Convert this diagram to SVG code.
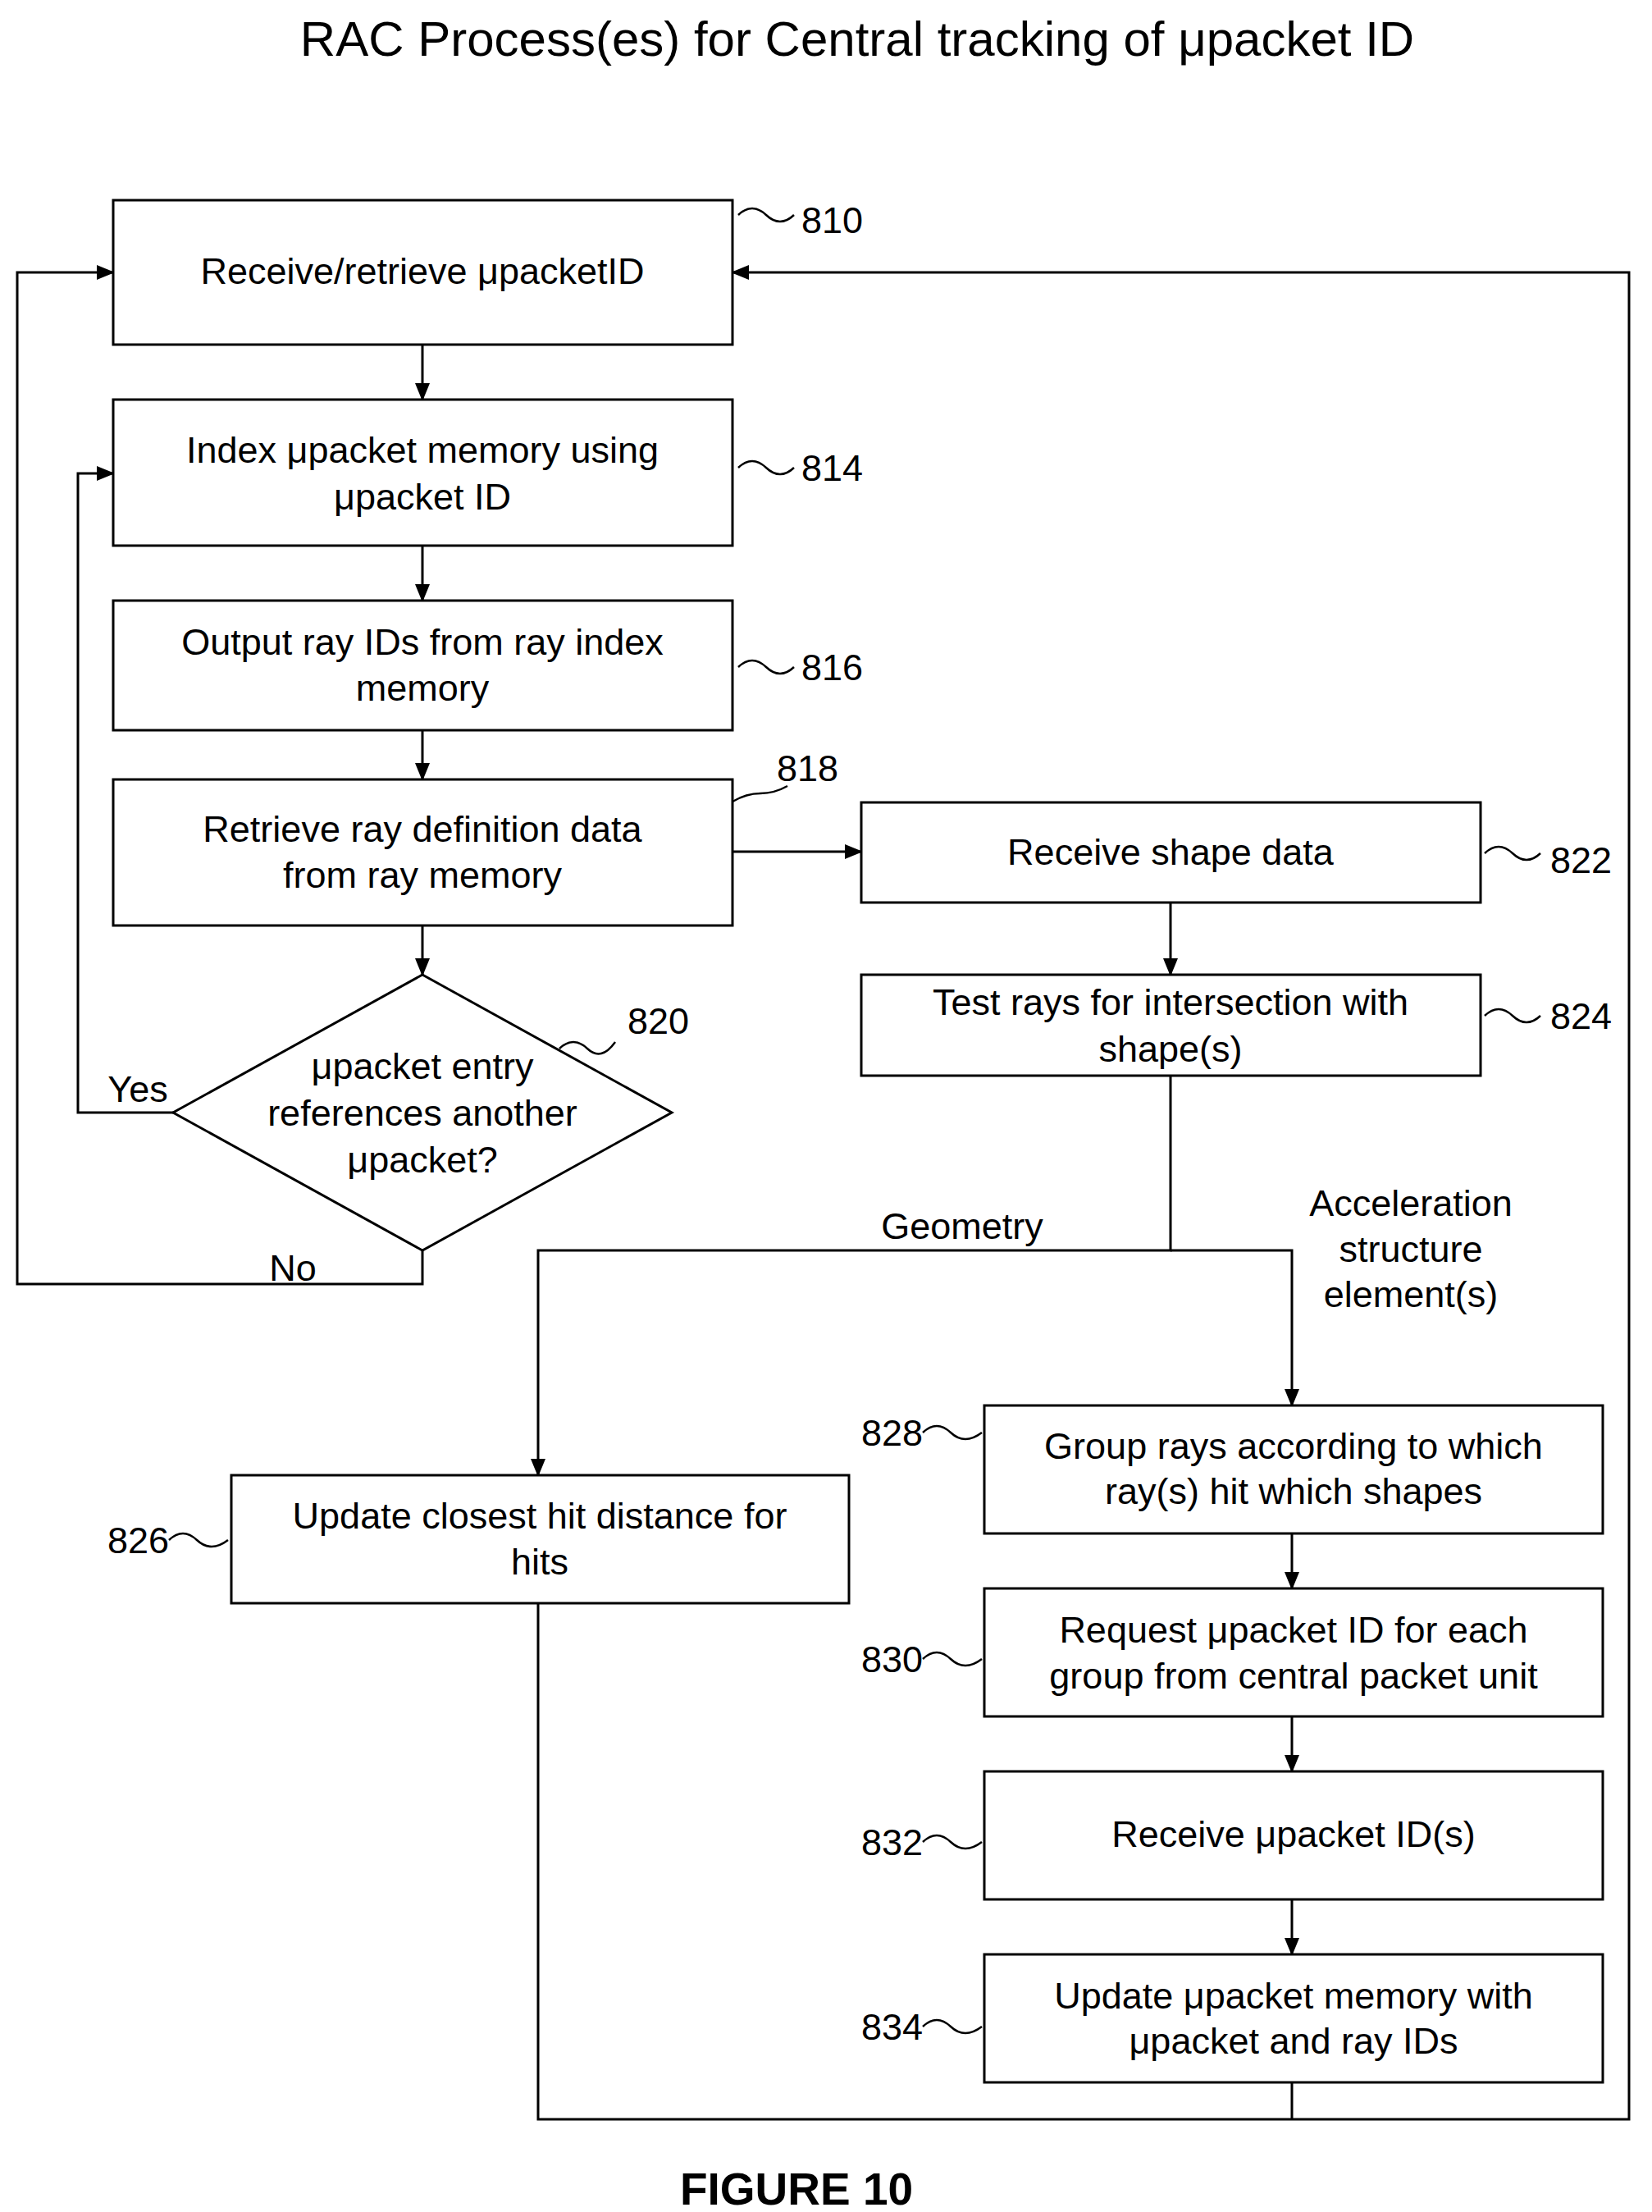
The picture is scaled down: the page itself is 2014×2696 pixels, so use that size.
<svg xmlns="http://www.w3.org/2000/svg" width="2014" height="2696" viewBox="0 0 2014 2696">
<style>
.b{fill:#fff;stroke:#000;stroke-width:3}
text{font-family:"Liberation Sans",Arial,sans-serif;font-size:45px;fill:#000}
.c{text-anchor:middle;dominant-baseline:central}
.n{dominant-baseline:central}
.e{text-anchor:end;dominant-baseline:central}
.l{fill:none;stroke:#000;stroke-width:3}
.s{fill:none;stroke:#000;stroke-width:2.5}
</style>
<defs>
<marker id="ab" markerWidth="22" markerHeight="22" refX="20" refY="11" orient="auto" markerUnits="userSpaceOnUse" viewBox="0 0 22 22"><path d="M0,2 L22,11 L0,20 z" fill="#000"/></marker></defs>
<text x="1045" y="47" class="c" style="font-size:60px">RAC Process(es) for Central tracking of μpacket ID</text>
<g id="connectors" marker-end="url(#ab)">
<path class="l" d="M515,420V487"/>
<path class="l" d="M515,665V732"/>
<path class="l" d="M515,890V950"/>
<path class="l" d="M515,1128V1188"/>
<path class="l" d="M893,1038H1050"/>
<path class="l" d="M1427,1100V1188"/>
<path class="l" d="M1427,1311V1524H656V1798"/>
<path class="l" d="M1427,1524H1575V1713"/>
<path class="l" d="M211,1356H95V577H138"/>
<path class="l" d="M515,1524V1565H21V332H138"/>
<path class="l" d="M1575,1869V1936"/>
<path class="l" d="M1575,2092V2159"/>
<path class="l" d="M1575,2315V2382"/>
<path class="l" d="M656,1954V2583H1986V332H893"/>
<path class="l" d="M1575,2538V2583" marker-end="none"/>
</g>
<g id="n810"><rect class="b" x="138" y="244" width="755" height="176"/><text x="515" y="330" class="c">Receive/retrieve μpacketID</text></g>
<g id="n814"><rect class="b" x="138" y="487" width="755" height="178"/><text x="515" y="548" class="c">Index μpacket memory using</text><text x="515" y="605" class="c">μpacket ID</text></g>
<g id="n816"><rect class="b" x="138" y="732" width="755" height="158"/><text x="515" y="782" class="c">Output ray IDs from ray index</text><text x="515" y="838" class="c">memory</text></g>
<g id="n818"><rect class="b" x="138" y="950" width="755" height="178"/><text x="515" y="1010" class="c">Retrieve ray definition data</text><text x="515" y="1066" class="c">from ray memory</text></g>
<g id="n822"><rect class="b" x="1050" y="978" width="755" height="122"/><text x="1427" y="1038" class="c">Receive shape data</text></g>
<g id="n824"><rect class="b" x="1050" y="1188" width="755" height="123"/><text x="1427" y="1221" class="c">Test rays for intersection with</text><text x="1427" y="1278" class="c">shape(s)</text></g>
<g id="n820"><path class="b" d="M515,1188L819,1356L515,1524L211,1356Z"/><text x="515" y="1299" class="c">μpacket entry</text><text x="515" y="1356" class="c">references another</text><text x="515" y="1413" class="c">μpacket?</text></g>
<g id="n826"><rect class="b" x="282" y="1798" width="753" height="156"/><text x="658" y="1847" class="c">Update closest hit distance for</text><text x="658" y="1903" class="c">hits</text></g>
<g id="n828"><rect class="b" x="1200" y="1713" width="754" height="156"/><text x="1577" y="1762" class="c">Group rays according to which</text><text x="1577" y="1817" class="c">ray(s) hit which shapes</text></g>
<g id="n830"><rect class="b" x="1200" y="1936" width="754" height="156"/><text x="1577" y="1986" class="c">Request μpacket ID for each</text><text x="1577" y="2042" class="c">group from central packet unit</text></g>
<g id="n832"><rect class="b" x="1200" y="2159" width="754" height="156"/><text x="1577" y="2235" class="c">Receive μpacket ID(s)</text></g>
<g id="n834"><rect class="b" x="1200" y="2382" width="754" height="156"/><text x="1577" y="2432" class="c">Update μpacket memory with</text><text x="1577" y="2487" class="c">μpacket and ray IDs</text></g>
<g id="labels">
<text x="168" y="1327" class="c">Yes</text>
<text x="357" y="1545" class="c">No</text>
<text x="1173" y="1494" class="c">Geometry</text>
<text x="1720" y="1466" class="c">Acceleration</text><text x="1720" y="1522" class="c">structure</text><text x="1720" y="1577" class="c">element(s)</text>
</g>
<g id="refs">
<path class="s" d="M900,262q17,-16 34,0t34,0"/><text x="977" y="268" class="n">810</text>
<path class="s" d="M900,570q17,-16 34,0t34,0"/><text x="977" y="570" class="n">814</text>
<path class="s" d="M900,813q17,-16 34,0t34,0"/><text x="977" y="813" class="n">816</text>
<path class="s" d="M893,977q17,-10 34,-10t33,-9"/><text x="947" y="936" class="n">818</text>
<path class="s" d="M682,1278q17,-16 34,0t34,-8"/><text x="765" y="1244" class="n">820</text>
<path class="s" d="M1810,1040q17,-16 34,0t34,0"/><text x="1890" y="1048" class="n">822</text>
<path class="s" d="M1810,1238q17,-16 34,0t34,0"/><text x="1890" y="1238" class="n">824</text>
<path class="s" d="M206,1877q17,-16 34,0t38,0"/><text x="206" y="1877" class="e">826</text>
<path class="s" d="M1125,1746q17,-16 34,0t38,0"/><text x="1125" y="1746" class="e">828</text>
<path class="s" d="M1125,2022q17,-16 34,0t38,0"/><text x="1125" y="2022" class="e">830</text>
<path class="s" d="M1125,2245q17,-16 34,0t38,0"/><text x="1125" y="2245" class="e">832</text>
<path class="s" d="M1125,2470q17,-16 34,0t38,0"/><text x="1125" y="2470" class="e">834</text>
</g>
<text x="971" y="2668" class="c" style="font-size:55px;font-weight:bold">FIGURE 10</text>
</svg>
